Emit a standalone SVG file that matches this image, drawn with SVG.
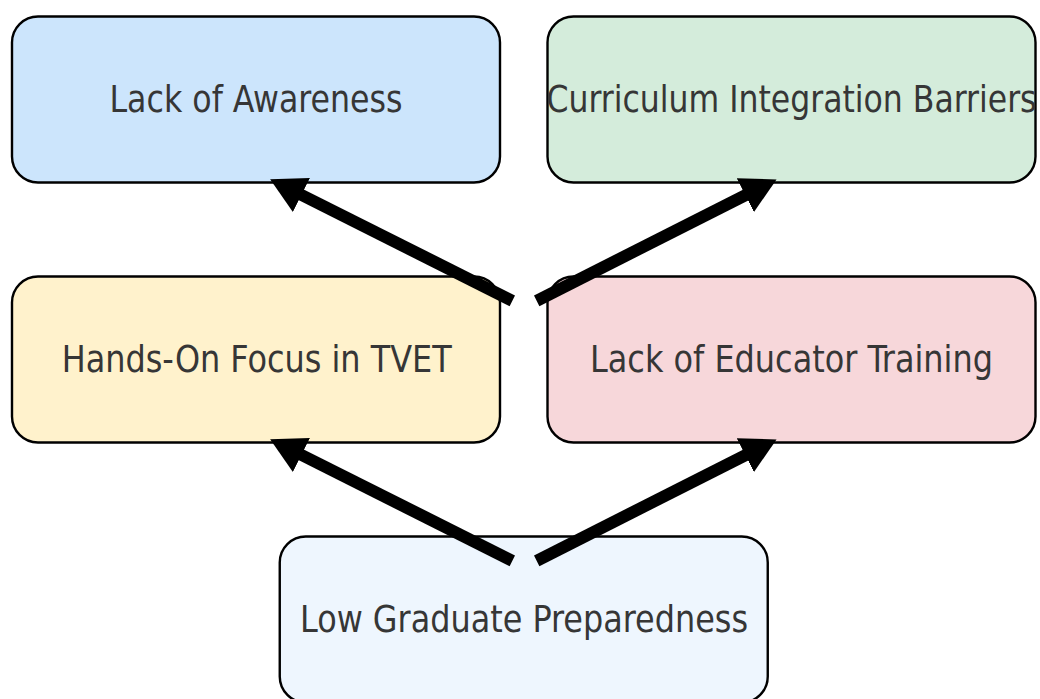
<svg xmlns="http://www.w3.org/2000/svg" width="1040" height="699" viewBox="0 0 1040 699">
  <style>
    .box { stroke: #000; stroke-width: 2.4; }
    .lbl { font-family: "DejaVu Sans Condensed", "DejaVu Sans", sans-serif; font-stretch: condensed; font-size: 38px; fill: #363636; text-anchor: middle; }
    .edge { stroke: #000; stroke-width: 12; fill: none; stroke-linecap: butt; }
  </style>
  <defs>
    <marker id="head" markerUnits="userSpaceOnUse" viewBox="0 0 35 38" markerWidth="35" markerHeight="38" refX="2" refY="19" orient="auto">
      <path d="M0,0 L35,19 L0,38 Z" fill="#000"/>
    </marker>
  </defs>
  <rect width="1040" height="699" fill="#fff"/>
  <g id="node-awareness">
    <rect class="box" x="12" y="16.5" width="488" height="166" rx="26" ry="26" fill="#cce5fc"/>
    <text class="lbl" x="256" y="111.7" textLength="293" lengthAdjust="spacingAndGlyphs">Lack of Awareness</text>
  </g>
  <g id="node-curriculum">
    <rect class="box" x="547.5" y="16.5" width="488" height="166" rx="26" ry="26" fill="#d4ecdb"/>
    <text class="lbl" x="791.5" y="111.7" textLength="490" lengthAdjust="spacingAndGlyphs">Curriculum Integration Barriers</text>
  </g>
  <g id="node-handson">
    <rect class="box" x="12" y="276.5" width="488" height="166" rx="26" ry="26" fill="#fff2cc"/>
    <text class="lbl" x="256.7" y="371.7" textLength="390" lengthAdjust="spacingAndGlyphs">Hands-On Focus in TVET</text>
  </g>
  <g id="node-educator">
    <rect class="box" x="547.5" y="276.5" width="488" height="166" rx="26" ry="26" fill="#f7d7da"/>
    <text class="lbl" x="791.5" y="371.7" textLength="403" lengthAdjust="spacingAndGlyphs">Lack of Educator Training</text>
  </g>
  <g id="node-graduate">
    <rect class="box" x="279.75" y="536.5" width="488" height="166" rx="26" ry="26" fill="#eef6fe"/>
    <text class="lbl" x="524" y="631.7" textLength="448" lengthAdjust="spacingAndGlyphs">Low Graduate Preparedness</text>
  </g>
  <g id="connectors">
    <line class="edge" x1="512.3" y1="300.8" x2="299.6" y2="194.0" marker-end="url(#head)"/>
    <line class="edge" x1="536.7" y1="300.8" x2="747.1" y2="194.3" marker-end="url(#head)"/>
    <line class="edge" x1="512.3" y1="560.8" x2="299.6" y2="454.0" marker-end="url(#head)"/>
    <line class="edge" x1="536.7" y1="560.8" x2="747.1" y2="454.3" marker-end="url(#head)"/>
  </g>
</svg>
